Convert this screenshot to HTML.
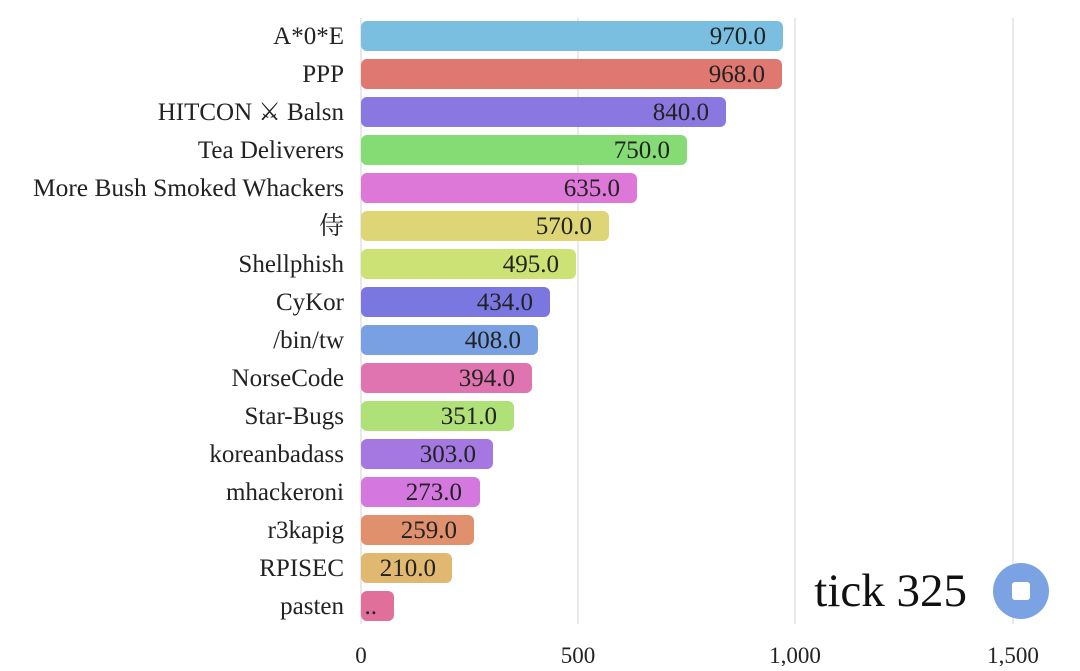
<!DOCTYPE html>
<html><head><meta charset="utf-8"><style>
body{margin:0;background:#fff}
svg text{font-family:"Liberation Serif","Noto Serif CJK SC",serif;fill:#222}
</style></head><body>
<svg width="1080" height="666" xmlns="http://www.w3.org/2000/svg">
<g stroke="#e2e2e2" stroke-width="1.5">
<line x1="578" y1="18" x2="578" y2="624"/>
<line x1="795" y1="18" x2="795" y2="624"/>
<line x1="1013" y1="18" x2="1013" y2="624"/>
<line x1="361" y1="18" x2="361" y2="624"/>
</g>
<g font-size="23" text-anchor="middle">
<text x="361" y="663">0</text><text x="578" y="663">500</text><text x="795" y="663">1,000</text><text x="1013" y="663">1,500</text>
</g>
<text x="967" y="606" font-size="47" text-anchor="end" style="fill:#111">tick 325</text>
<circle cx="1021" cy="591" r="28" fill="#7ba2e2"/>
<rect x="1012" y="582" width="18" height="18" rx="3" fill="#fff"/>
<g font-size="25" text-anchor="end">
<rect x="361" y="21" width="422" height="30" rx="6" fill="#7bbfe0"/><text x="766" y="44">970.0</text>
<rect x="361" y="59" width="421" height="30" rx="6" fill="#df7870"/><text x="765" y="82">968.0</text>
<rect x="361" y="97" width="365" height="30" rx="6" fill="#8a78e0"/><text x="709" y="120">840.0</text>
<rect x="361" y="135" width="326" height="30" rx="6" fill="#86dc74"/><text x="670" y="158">750.0</text>
<rect x="361" y="173" width="276" height="30" rx="6" fill="#de78d8"/><text x="620" y="196">635.0</text>
<rect x="361" y="211" width="248" height="30" rx="6" fill="#ded676"/><text x="592" y="234">570.0</text>
<rect x="361" y="249" width="215" height="30" rx="6" fill="#cde274"/><text x="559" y="272">495.0</text>
<rect x="361" y="287" width="189" height="30" rx="6" fill="#7a78e0"/><text x="533" y="310">434.0</text>
<rect x="361" y="325" width="177" height="30" rx="6" fill="#78a0e2"/><text x="521" y="348">408.0</text>
<rect x="361" y="363" width="171" height="30" rx="6" fill="#e074b0"/><text x="515" y="386">394.0</text>
<rect x="361" y="401" width="153" height="30" rx="6" fill="#b0e078"/><text x="497" y="424">351.0</text>
<rect x="361" y="439" width="132" height="30" rx="6" fill="#a478e0"/><text x="476" y="462">303.0</text>
<rect x="361" y="477" width="119" height="30" rx="6" fill="#d478e0"/><text x="462" y="500">273.0</text>
<rect x="361" y="515" width="113" height="30" rx="6" fill="#e0906c"/><text x="457" y="538">259.0</text>
<rect x="361" y="553" width="91" height="30" rx="6" fill="#e0b870"/><text x="436" y="576">210.0</text>
<rect x="361" y="591" width="33" height="30" rx="6" fill="#e0709a"/><text x="377" y="614">..</text>
</g>
<g font-size="25" text-anchor="end">
<text x="344" y="44">A*0*E</text>
<text x="344" y="82">PPP</text>
<text x="344" y="120">HITCON ⚔ Balsn</text>
<text x="344" y="158">Tea Deliverers</text>
<text x="344" y="196" textLength="311" lengthAdjust="spacingAndGlyphs">More Bush Smoked Whackers</text>
<text x="344" y="234">侍</text>
<text x="344" y="272">Shellphish</text>
<text x="344" y="310">CyKor</text>
<text x="344" y="348">/bin/tw</text>
<text x="344" y="386">NorseCode</text>
<text x="344" y="424">Star-Bugs</text>
<text x="344" y="462">koreanbadass</text>
<text x="344" y="500">mhackeroni</text>
<text x="344" y="538">r3kapig</text>
<text x="344" y="576">RPISEC</text>
<text x="344" y="614">pasten</text>
</g>
</svg>
</body></html>
